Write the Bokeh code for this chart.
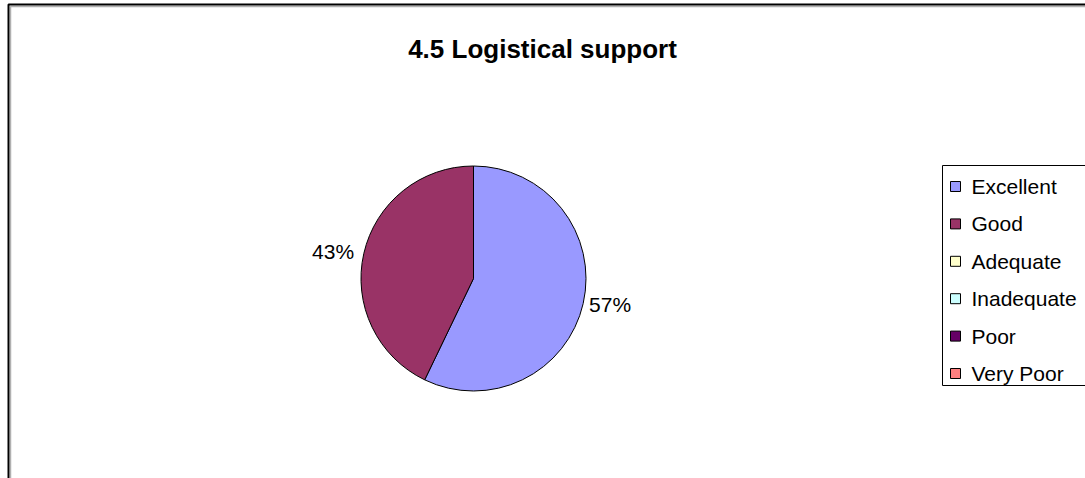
import math
from bokeh.plotting import figure
from bokeh.models import Range1d, ColumnDataSource
from bokeh.core.properties import value
from bokeh.embed import file_html
from bokeh.resources import INLINE

# ---- data ----
title = "4.5 Logistical support"
categories = ["Excellent", "Good", "Adequate", "Inadequate", "Poor", "Very Poor"]
counts = [4, 3, 0, 0, 0, 0]
colors = ["#9999FF", "#993366", "#FFFFCC", "#CCFFFF", "#660066", "#FF8080"]

W, H = 1085, 478
FONT = "Liberation Sans"

def sy(y):  # screen y -> data y
    return H - y

p = figure(width=W, height=H, output_backend="svg", toolbar_location=None,
           x_range=Range1d(0, W), y_range=Range1d(0, H), min_border=0)
p.axis.visible = False
p.grid.visible = False
p.outline_line_color = None
p.background_fill_color = "white"
p.border_fill_color = "white"

# chart area border (extends beyond window on right and bottom)
p.line([1100, 10, 10], [sy(6), sy(6), -40], line_color="#B0B0B0", line_width=1.5)
p.line([1100, 8, 8], [sy(4), sy(4), -40], line_color="#000000", line_width=2)

# title
p.text(x=[542], y=[sy(48)], text=[title], text_font=value(FONT), text_font_style="bold",
       text_font_size="26px", text_align="center", text_baseline="alphabetic", text_color="black")

# pie
cx, cy, r = 473, sy(278), 112.5
total = sum(counts)
starts, ends, mids, wcol = [], [], [], []
acc = 0.0
for c, col in zip(counts, colors):
    a0 = math.pi / 2 - 2 * math.pi * acc / total
    acc += c
    a1 = math.pi / 2 - 2 * math.pi * acc / total
    if c > 0:
        starts.append(a0)
        ends.append(a1)
        mids.append((a0 + a1) / 2)
        wcol.append(col)

src = ColumnDataSource(dict(start=starts, end=ends, color=wcol))
p.wedge(x=cx, y=cy, radius=r, start_angle="start", end_angle="end", direction="clock",
        fill_color="color", line_color="black", line_width=1, source=src)

# percentage labels (anchored just outside the rim, aligned away from the pie)
nz = [c for c in counts if c > 0]
for c, m in zip(nz, mids):
    right_side = math.cos(m) >= 0
    lr = r + (6 if right_side else 10)
    x = cx + lr * math.cos(m)
    y = cy + lr * math.sin(m)
    p.text(x=[x], y=[y], text=[f"{round(100 * c / total)}%"], text_font=value(FONT),
           text_font_size="21px", text_align="left" if right_side else "right",
           text_baseline="middle", text_color="black")

# legend
lg_left, lg_top, lg_bottom = 942, 165, 385
p.quad(left=[lg_left], right=[1100], top=[sy(lg_top)], bottom=[sy(lg_bottom)],
       fill_color="white", line_color="black", line_width=1)
row0, step = 186, 37.4
rows = [sy(row0 + i * step) for i in range(len(categories))]
p.rect(x=[955] * len(categories), y=rows, width=10, height=10, fill_color=colors,
       line_color="black", line_width=1)
p.text(x=[971] * len(categories), y=rows, text=categories, text_font=value(FONT),
       text_font_size="21px", text_align="left", text_baseline="middle", text_color="black")

open("out.html", "w").write(file_html(p, INLINE))
